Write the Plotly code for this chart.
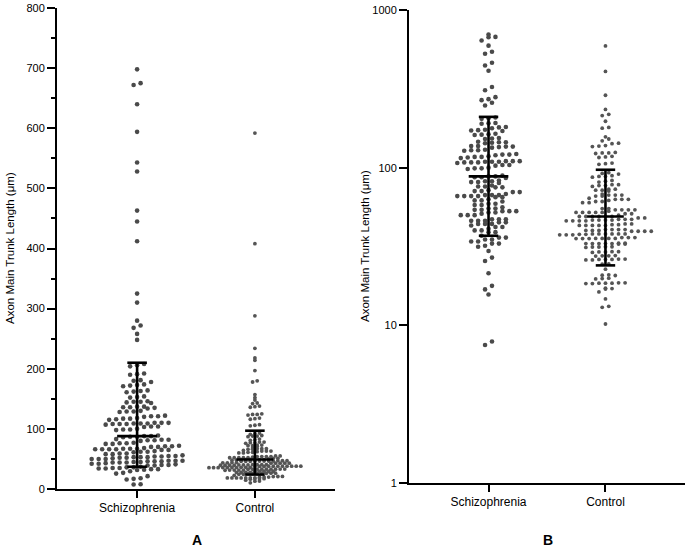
import numpy as np
import plotly.graph_objects as go

groups = ["Schizophrenia", "Control"]
panel_labels = ["A", "B"]
y_title = "Axon Main Trunk Length (μm)"

schizophrenia = [
    698, 675, 672, 640, 594, 543, 528, 463, 445, 412, 325, 310, 280, 272, 268, 258, 248,
    208, 206, 204, 191, 190, 192, 181, 180, 178, 174, 172, 173, 171,
    164, 163, 162, 161, 154, 153, 152, 146, 145, 144, 145, 143,
    137, 136, 135, 137, 136, 134, 129, 130, 128, 129, 122, 121, 120, 121,
    117, 116, 118, 117, 115, 110, 109, 108, 109, 110, 108, 109, 107, 110, 108,
    104, 103, 104, 99, 98, 100, 99, 88, 87, 89, 88, 86, 87, 82, 81, 83, 82, 80, 81,
    76, 75, 76, 77, 75, 71, 70, 72, 71, 70, 67, 66, 66, 67, 65, 66, 68, 66, 67, 65,
    62, 63, 62, 61, 59, 58, 59, 58, 55, 55, 56, 54, 53, 53, 52, 53, 54, 52,
    50, 51, 50, 50, 47, 46, 47, 46, 46, 47, 44, 45, 44, 44, 43, 45, 42, 42, 41,
    40, 39, 40, 39, 36, 37, 36, 35, 34, 35, 34, 33, 33, 32,
    31.5, 29.6, 26.9, 25.6, 21.4, 17.8, 16.9, 15.7, 7.9, 7.5,
]

control = [
    592, 408, 288, 234, 218, 214, 197, 180, 178, 157, 152, 148,
    143, 142, 138, 137, 136, 125, 124, 123, 124, 118, 117, 116,
    107, 106, 105, 93, 92, 91, 89, 88, 87, 88, 83, 82, 81,
    78, 77, 78, 77, 76, 73, 72, 73, 72, 71, 67, 66, 67, 68, 66, 67,
    63, 63, 62, 64, 63, 61, 60, 61, 60,
    54, 55, 54, 53, 54, 55, 54, 52, 52, 51, 52, 52, 51, 52,
    49, 49, 48, 49, 50, 49, 48, 49, 49,
    46.5, 46, 47, 46, 46.5, 47, 46, 46.5, 46, 47, 46.5,
    43, 43.5, 43, 44, 43, 43.5, 43, 44, 43,
    40.5, 39.5, 40, 40.5, 39.5, 40, 40.5, 39.5, 40, 40.5, 39.5,
    38, 37.5, 38, 37.8, 38, 37.5, 38, 37.8, 38, 37.5, 38,
    35.6, 35.5, 36, 35.6, 35.5, 36, 35.6, 35.5, 36, 35.6,
    33, 33.2, 33, 32.8, 33, 33.2, 33, 32.8, 33,
    31.4, 31.5, 31.2, 31.4, 31.5, 29.2, 29.3, 29, 29.2, 29.3,
    27.6, 27.5, 27.7, 27.6, 26.2, 26.3, 26, 26.2, 26.3, 26, 26.2,
    24.5, 24.4, 22.7, 20.8, 20.9, 20.7, 19.8, 19.9, 19.7,
    18.5, 18.6, 18.4, 18.5, 18.6, 18.4, 18.5, 17.1, 17.2, 17.0,
    16.3, 14.7, 13.2, 13.0, 10.2,
]

center_vals = [88, 49]
low_vals = [37, 24]
high_vals = [210, 97]

# ---------------- layout geometry ----------------
W, H = 689, 554
PX_PER_UNIT = 118.0  # horizontal pixels between category positions
X_RANGE = [-0.68, 1.68]


def swarm(vals, to_px, h, s):
    vals = np.asarray(vals, dtype=float)
    order = np.argsort(vals, kind="stable")
    ys = [to_px(vals[i]) for i in order]
    offs = np.zeros(len(vals))
    i, n = 0, len(order)
    while i < n:
        j = i
        while j + 1 < n and ys[j + 1] - ys[i] < h:
            j += 1
        k = j - i + 1
        for m in range(k):
            offs[order[i + m]] = (m - (k - 1) / 2) * s / PX_PER_UNIT
        i = j + 1
    return offs


lin_px = lambda v: v * 481.0 / 800.0
log_px = lambda v: np.log10(v) * 157.7

datasets = [schizophrenia, control]
marker_sizes = [4.6, 3.8]
marker_cols = ["#4a4a4a", "#555555"]
swarm_params = {
    1: [(4.5, 7.0), (2.2, 4.6)],
    2: [(4.2, 7.0), (3.6, 6.6)],
}
px_funcs = {1: lin_px, 2: log_px}

fig = go.Figure()

for ax in (1, 2):
    xa = "x" if ax == 1 else "x2"
    ya = "y" if ax == 1 else "y2"
    for g, vals in enumerate(datasets):
        h, s = swarm_params[ax][g]
        offs = swarm(vals, px_funcs[ax], h, s)
        fig.add_trace(go.Scatter(
            x=g + offs, y=vals, mode="markers", xaxis=xa, yaxis=ya,
            marker=dict(size=marker_sizes[g], color=marker_cols[g], line=dict(width=0)),
            showlegend=False, hoverinfo="y",
        ))
    # median / spread bars
    for g in range(len(groups)):
        mw = (20 if g == 0 else 18.5) / PX_PER_UNIT
        cw = 9.8 / PX_PER_UNIT
        c, lo, hi = center_vals[g], low_vals[g], high_vals[g]
        xs = [g, g, None, g - cw, g + cw, None, g - cw, g + cw, None, g - mw, g + mw]
        ys = [lo, hi, None, lo, lo, None, hi, hi, None, c, c]
        fig.add_trace(go.Scatter(
            x=xs, y=ys, mode="lines", xaxis=xa, yaxis=ya,
            line=dict(color="black", width=2.6), showlegend=False, hoverinfo="skip",
        ))

font = dict(family="Liberation Sans, Arial, sans-serif", color="black")

xaxis_common = dict(
    range=X_RANGE, tickvals=[0, 1], ticktext=groups, ticks="outside", ticklen=7,
    tickwidth=2, tickcolor="black", showline=True, linewidth=2, linecolor="black",
    showgrid=False, zeroline=False, tickfont=dict(size=12, **font),
)
yaxis_common = dict(
    ticks="outside", ticklen=8, tickwidth=2, tickcolor="black", showline=True,
    linewidth=2, linecolor="black", showgrid=False, zeroline=False,
    tickfont=dict(size=11, **font),
)

fig.update_layout(
    width=W, height=H, margin=dict(l=0, r=0, t=0, b=0, autoexpand=False),
    paper_bgcolor="white", plot_bgcolor="white",
    xaxis=dict(domain=[57 / W, 335 / W], anchor="y", **xaxis_common),
    yaxis=dict(domain=[(H - 489) / H, (H - 8) / H], anchor="x", range=[0, 800],
               dtick=100, tick0=0,
               minor=dict(dtick=50, ticks="outside", ticklen=4, tickwidth=2, tickcolor="black"),
               **yaxis_common),
    xaxis2=dict(domain=[409 / W, 685 / W], anchor="y2", **xaxis_common),
    yaxis2=dict(domain=[(H - 483) / H, (H - 10) / H], anchor="x2", type="log",
                range=[0, 3], tickvals=[1, 10, 100, 1000], ticktext=["1", "10", "100", "1000"],
                **yaxis_common),
)

annotations = [
    dict(text=y_title, x=10 / W, y=(H - 248) / H, textangle=-90, font=dict(size=11.5, **font)),
    dict(text=y_title, x=365 / W, y=(H - 246) / H, textangle=-90, font=dict(size=11.5, **font)),
    dict(text="<b>" + panel_labels[0] + "</b>", x=197 / W, y=(H - 540) / H, font=dict(size=14, **font)),
    dict(text="<b>" + panel_labels[1] + "</b>", x=548 / W, y=(H - 540) / H, font=dict(size=14, **font)),
]
for a in annotations:
    a.update(xref="paper", yref="paper", showarrow=False, xanchor="center", yanchor="middle")
fig.update_layout(annotations=annotations)

fig.write_html("out.html", config={"displayModeBar": False},
               post_script="document.body.style.margin='0';")
